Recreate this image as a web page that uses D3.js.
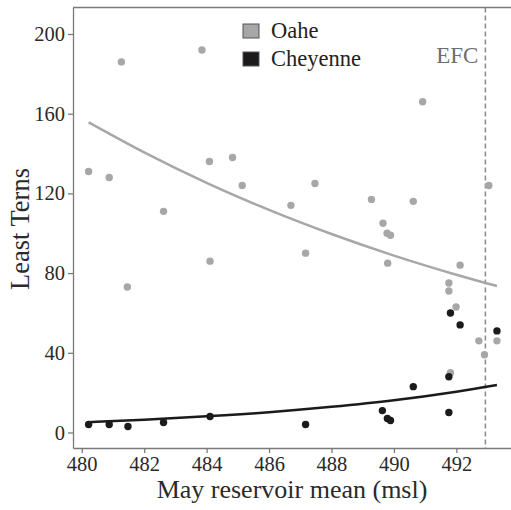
<!DOCTYPE html>
<html>
<head>
<meta charset="utf-8">
<script src="https://cdn.jsdelivr.net/npm/d3@7"></script>
<style>
  body { margin: 0; background: #fff; }
  svg { display: block; font-family: "Liberation Serif", "DejaVu Serif", serif; }
  .axis text { font-size: 20.5px; fill: #2a2a2a; font-family: "Liberation Serif", serif; }
  .axis path, .axis line { stroke: #7a7a7a; stroke-width: 1.3; }
</style>
</head>
<body>
<svg></svg>
<script>
// Oahe reservoir points (May mean msl, least terns)
var oaheX = [480.22, 480.88, 481.27, 481.46, 482.62, 483.85, 484.09, 484.11, 484.83, 485.14,
  486.70, 487.17, 487.47, 489.28, 489.65, 489.78, 489.80, 489.89, 490.62, 490.92,
  491.76, 491.76, 491.81, 491.99, 492.12, 492.72, 492.90, 493.04, 493.30];
var oaheY = [131, 128, 186, 73, 111, 192, 136, 86, 138, 124,
  114, 90, 125, 117, 105, 100, 85, 99, 116, 166,
  75, 71, 30, 63, 84, 46, 39, 124, 46];

// Cheyenne points
var cheyX = [480.22, 480.88, 481.48, 482.62, 484.11, 487.17, 489.63, 489.79, 489.89, 490.62,
  491.76, 491.76, 491.81, 492.12, 493.30];
var cheyY = [4, 4, 3, 5, 8, 4, 11, 7, 6, 23,
  28, 10, 60, 54, 51];

// fitted curves
var fitX = [480.22, 482, 484, 486, 488, 490, 492, 493.3];
var oaheFit = [155.7, 140.6, 125.3, 111.7, 99.6, 88.8, 79.2, 73.5];
var cheyFit = [5.2, 6.4, 8.1, 10.2, 12.9, 16.2, 20.5, 23.8];

var xTicks = [480, 482, 484, 486, 488, 490, 492];
var yTicks = [0, 40, 80, 120, 160, 200];
var efc = 492.93;
var seriesNames = ['Oahe', 'Cheyenne'];
var seriesColors = ['#a7a7a7', '#1c1a1b'];

var canvasWidth = 511;
var canvasHeight = 510;
var margin = {top: 7.5, right: 0, bottom: 62, left: 73};
var width = canvasWidth - margin.left - margin.right;
var height = canvasHeight - margin.top - margin.bottom;

var svg = d3.select('svg')
  .attr('width', canvasWidth)
  .attr('height', canvasHeight);

var g = svg.append('g')
  .attr('transform', 'translate(' + margin.left + ',' + margin.top + ')');

var xScale = d3.scaleLinear().domain([479.72, 493.75]).range([0, width]);
var yScale = d3.scaleLinear().domain([-7.78, 213.3]).range([height, 0]);

// axes
g.append('g')
  .attr('class', 'x axis')
  .attr('transform', 'translate(0,' + height + ')')
  .call(d3.axisBottom(xScale).tickValues(xTicks).tickSize(5).tickSizeOuter(0).tickPadding(3).tickFormat(d3.format('d')));

g.append('g')
  .attr('class', 'y axis')
  .call(d3.axisLeft(yScale).tickValues(yTicks).tickSize(5).tickSizeOuter(0).tickPadding(3));

// top frame line
g.append('line')
  .attr('x1', 0).attr('x2', width)
  .attr('y1', 0).attr('y2', 0)
  .style('stroke', '#7a7a7a')
  .style('stroke-width', 1.3);

// EFC line
g.append('line')
  .attr('x1', xScale(efc)).attr('x2', xScale(efc))
  .attr('y1', 0).attr('y2', height)
  .style('stroke', '#8a8a8a')
  .style('stroke-width', 1.5)
  .style('stroke-dasharray', '5,3');

g.append('text')
  .attr('x', xScale(efc) - 7)
  .attr('y', 55)
  .attr('text-anchor', 'end')
  .style('font-size', '23px')
  .style('fill', '#6e6e6e')
  .text('EFC');

// fit lines
var line = d3.line()
  .x(function(d) { return xScale(d[0]); })
  .y(function(d) { return yScale(d[1]); })
  .curve(d3.curveMonotoneX);

g.append('path')
  .datum(d3.zip(fitX, oaheFit))
  .attr('d', line)
  .style('fill', 'none')
  .style('stroke', seriesColors[0])
  .style('stroke-width', 2.5);

g.append('path')
  .datum(d3.zip(fitX, cheyFit))
  .attr('d', line)
  .style('fill', 'none')
  .style('stroke', seriesColors[1])
  .style('stroke-width', 2.5);

// points
g.selectAll('.oahe')
  .data(d3.zip(oaheX, oaheY))
  .enter().append('circle')
  .attr('class', 'oahe')
  .attr('r', 3.7)
  .attr('cx', function(d) { return xScale(d[0]); })
  .attr('cy', function(d) { return yScale(d[1]); })
  .style('fill', seriesColors[0]);

g.selectAll('.chey')
  .data(d3.zip(cheyX, cheyY))
  .enter().append('circle')
  .attr('class', 'chey')
  .attr('r', 3.7)
  .attr('cx', function(d) { return xScale(d[0]); })
  .attr('cy', function(d) { return yScale(d[1]); })
  .style('fill', seriesColors[1]);

// legend
var legend = svg.selectAll('.legend')
  .data(seriesNames)
  .enter().append('g')
  .attr('class', 'legend')
  .attr('transform', function(d, i) { return 'translate(243,' + (24 + i * 28) + ')'; });

legend.append('rect')
  .attr('width', 16)
  .attr('height', 14)
  .style('fill', function(d, i) { return seriesColors[i]; })
  .style('stroke', '#555')
  .style('stroke-width', 1);

legend.append('text')
  .attr('x', 28)
  .attr('y', 13.5)
  .style('font-size', '22.5px')
  .style('fill', '#222')
  .text(function(d) { return d; });

// axis labels
svg.append('text')
  .attr('x', -229)
  .attr('y', 29)
  .attr('text-anchor', 'middle')
  .attr('transform', 'rotate(-90)')
  .style('font-size', '26.5px')
  .style('fill', '#2a2a2a')
  .text('Least Terns');

svg.append('text')
  .attr('x', 292)
  .attr('y', 498)
  .attr('text-anchor', 'middle')
  .style('font-size', '26px')
  .style('fill', '#2a2a2a')
  .text('May reservoir mean (msl)');
</script>
</body>
</html>
